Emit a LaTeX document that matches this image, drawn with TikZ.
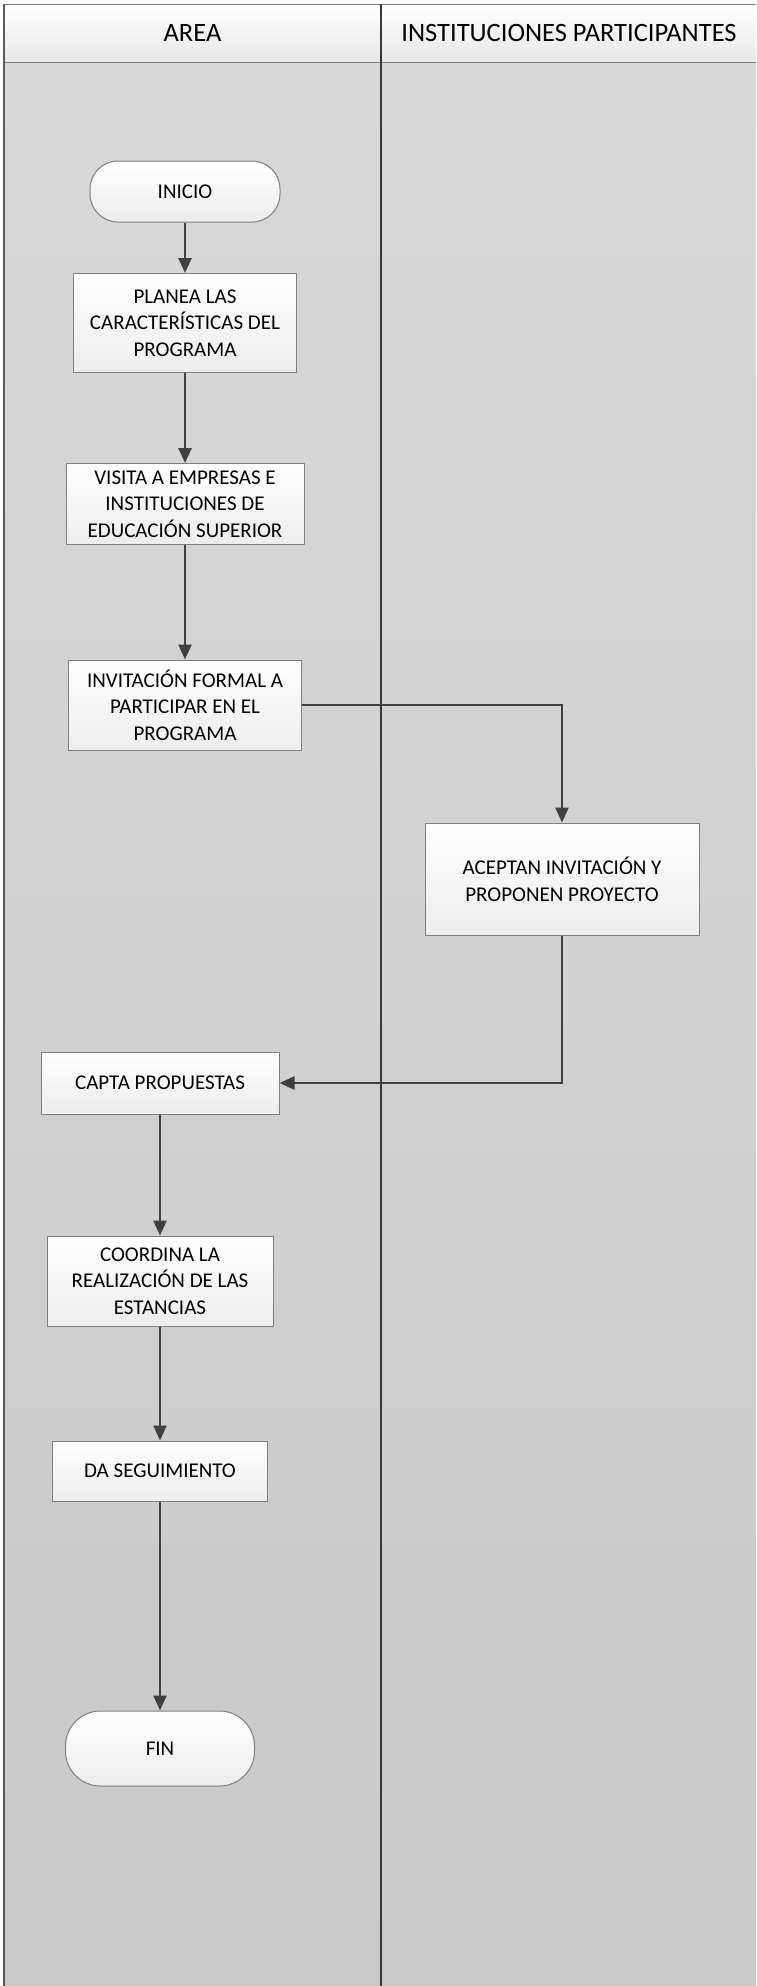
\documentclass[tikz,border=0pt]{standalone}
\usepackage{fontspec}
\setmainfont{Carlito}
\usetikzlibrary{arrows.meta,calc}
\definecolor{lanetop}{HTML}{D8D8D8}
\definecolor{lanebot}{HTML}{C9C9C9}
\definecolor{hdrbot}{HTML}{E8E8E8}
\definecolor{conncol}{HTML}{404040}
\definecolor{boxborder}{HTML}{7F7F7F}
\definecolor{boxbot}{HTML}{EDEDED}
\begin{document}
\begin{tikzpicture}[x=1pt,y=-1pt,
  procbox/.style={draw=boxborder, line width=1pt, top color=white, bottom color=boxbot,
    align=center, inner sep=0pt, font=\fontsize{21}{26.6}\selectfont},
  termbox/.style={procbox, rounded corners=28pt},
  conn/.style={draw=conncol, line width=2.6pt, -{Triangle[length=15pt,width=13pt]}},
  hdrtext/.style={font=\fontsize{26.5}{30}\selectfont, inner sep=0pt}]
\useasboundingbox (0,0) rectangle (756,1986);
% lane body
\shade[top color=lanetop, bottom color=lanebot] (4,62) rectangle (756,1986);
% header
\shade[top color=white, bottom color=hdrbot] (4,4) rectangle (756,62);
\draw[boxborder, line width=1pt] (4,4) -- (756,4);
\draw[boxborder, line width=1pt] (4,62) -- (756,62);
\draw[gray!70!black, line width=1.6pt] (4,4) -- (4,1986);
\draw[gray!45!black, line width=1.4pt] (381,4) -- (381,1986);
\node[hdrtext] (harea) at (192.5,33) {AREA};
\node[hdrtext] (hinst) at (569,33) {INSTITUCIONES PARTICIPANTES};
% nodes
\node[termbox, minimum width=190pt, minimum height=61pt] (inicio) at (185,191.5) {INICIO};
\node[procbox, minimum width=223pt, minimum height=99pt] (planea) at (185,323) {PLANEA LAS\\CARACTERÍSTICAS DEL\\PROGRAMA};
\node[procbox, minimum width=238pt, minimum height=81pt] (visita) at (185,504) {VISITA A EMPRESAS E\\INSTITUCIONES DE\\EDUCACIÓN SUPERIOR};
\node[procbox, minimum width=233pt, minimum height=90pt] (invita) at (185,705) {INVITACIÓN FORMAL A\\PARTICIPAR EN EL\\PROGRAMA};
\node[procbox, minimum width=274pt, minimum height=112pt] (acepta) at (562,879) {ACEPTAN INVITACIÓN Y\\PROPONEN PROYECTO};
\node[procbox, minimum width=238pt, minimum height=62pt] (capta) at (160,1083) {CAPTA PROPUESTAS};
\node[procbox, minimum width=226pt, minimum height=90pt] (coord) at (160,1281) {COORDINA LA\\REALIZACIÓN DE LAS\\ESTANCIAS};
\node[procbox, minimum width=215pt, minimum height=60pt] (segui) at (160,1471) {DA SEGUIMIENTO};
\node[termbox, rounded corners=35pt, minimum width=189pt, minimum height=75pt] (fin) at (160,1748.5) {FIN};
% connectors
\draw[conn] (inicio) -- (planea);
\draw[conn] (planea) -- (visita);
\draw[conn] (visita) -- (invita);
\draw[conn] (invita.east) -| (acepta.north);
\draw[conn] (acepta.south) |- (capta.east);
\draw[conn] (capta) -- (coord);
\draw[conn] (coord) -- (segui);
\draw[conn] (segui) -- (fin);
\end{tikzpicture}
\end{document}
